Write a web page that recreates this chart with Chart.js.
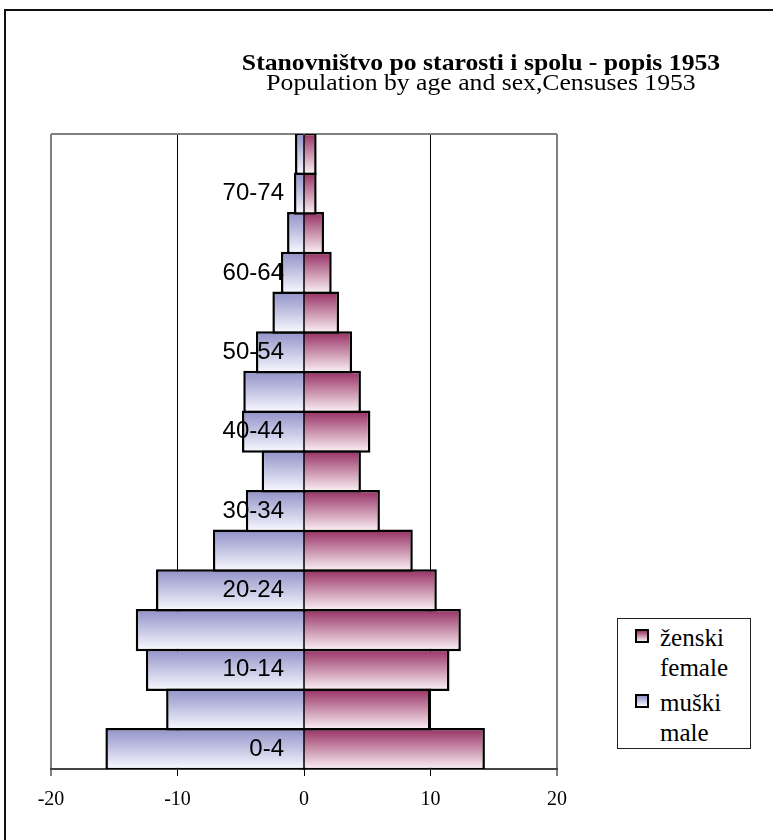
<!DOCTYPE html>
<html>
<head>
<meta charset="utf-8">
<script src="https://cdn.jsdelivr.net/npm/chart.js@4.4.1/dist/chart.umd.min.js"></script>
<style>
    body { margin: 0; background: #fff; }
    #wrap { position: relative; width: 773px; height: 840px; overflow: hidden; }
    #frame { position: absolute; left: 4px; top: 9px; width: 900px; height: 900px; border-left: 2px solid #111; border-top: 2px solid #111; }
    canvas { position: absolute; left: 0; top: 0; }
    .title { position: absolute; left: 481px; white-space: nowrap; font-family: "Liberation Serif", "Times New Roman", serif;
             font-size: 24px; line-height: 24px; color: #000; transform: translateX(-50%) scaleX(1.07); }
    #t1 { top: 50px; font-weight: bold; }
    #t2 { top: 70px; }
    #legend { position: absolute; left: 617px; top: 618px; width: 132px; height: 129px; border: 1px solid #222; background: #fff; }
    .item { position: absolute; left: 42px; font-family: "Liberation Serif", "Times New Roman", serif; font-size: 25px; line-height: 30px; color: #000; }
    .sw { position: absolute; left: -25px; top: 6px; width: 10px; height: 10px; border: 2px solid #000; }
</style>
</head>
<body>
<div id="wrap">
    <div id="frame"></div>
    <canvas id="pyramid" width="773" height="840"></canvas>
    <div class="title" id="t1">Stanovništvo po starosti i spolu - popis 1953</div>
    <div class="title" id="t2">Population by age and sex,Censuses 1953</div>
    <div id="legend">
        <div class="item" style="top:4px"><span class="sw" style="background:linear-gradient(#993366,#faf0f4)"></span>ženski<br>female</div>
        <div class="item" style="top:69px"><span class="sw" style="background:linear-gradient(#9393c9,#f8f8ff)"></span>muški<br>male</div>
    </div>
</div>
<script>
// ============================================
// データ
// ============================================

const ageGroups = ['0-4', '5-9', '10-14', '15-19', '20-24', '25-29', '30-34', '35-39',
                   '40-44', '45-49', '50-54', '55-59', '60-64', '65-69', '70-74', '75-79'];

// muški / male (negative = left side)
const maleValues = [-15.7, -10.9, -12.5, -13.3, -11.7, -7.2, -4.6, -3.35,
                    -4.9, -4.8, -3.8, -2.5, -1.82, -1.34, -0.79, -0.71];

// ženski / female
const femaleValues = [14.3, 10.0, 11.5, 12.4, 10.5, 8.6, 6.0, 4.5,
                      5.25, 4.5, 3.8, 2.77, 2.19, 1.58, 1.0, 1.0];

const xTicks = [-20, -10, 0, 10, 20];

// ============================================
// バーごとのグラデーション
// ============================================

function barGradient(topColor, bottomColor) {
    return function(context) {
        const chart = context.chart;
        const yScale = chart.scales.y;
        if (!chart.chartArea || !yScale || context.dataIndex === undefined) return topColor;
        const center = yScale.getPixelForValue(context.dataIndex);
        const half = Math.abs(yScale.getPixelForValue(1) - yScale.getPixelForValue(0)) / 2;
        const g = chart.ctx.createLinearGradient(0, center - half, 0, center + half);
        g.addColorStop(0, topColor);
        g.addColorStop(1, bottomColor);
        return g;
    };
}

const topFrame = {
    id: 'topFrame',
    beforeDatasetsDraw(chart) {
        const {ctx, chartArea: a} = chart;
        ctx.save();
        ctx.strokeStyle = '#808080';
        ctx.lineWidth = 2;
        ctx.beginPath();
        ctx.moveTo(a.left, a.top);
        ctx.lineTo(a.right, a.top);
        ctx.stroke();
        ctx.restore();
    }
};

// age labels on top of the bars, left of the zero line (every second group)
const ageLabels = {
    id: 'ageLabels',
    afterDatasetsDraw(chart) {
        const {ctx, scales: {x, y}} = chart;
        ctx.save();
        ctx.fillStyle = '#000';
        ctx.font = '24px "Liberation Sans", Arial, sans-serif';
        ctx.textAlign = 'right';
        ctx.textBaseline = 'middle';
        ageGroups.forEach((label, i) => {
            if (i % 2 !== 0) return;
            ctx.fillText(label, x.getPixelForValue(0) - 20, y.getPixelForValue(i));
        });
        ctx.restore();
    }
};

new Chart(document.getElementById('pyramid').getContext('2d'), {
    type: 'bar',
    data: {
        labels: ageGroups,
        datasets: [
            {
                label: 'ženski female',
                data: femaleValues,
                backgroundColor: barGradient('#993366', '#faf0f4'),
                borderColor: '#000',
                borderWidth: 2.5,
                borderSkipped: 'start'
            },
            {
                label: 'muški male',
                data: maleValues,
                backgroundColor: barGradient('#9393c9', '#f8f8ff'),
                borderColor: '#000',
                borderWidth: 2.5,
                borderSkipped: 'start'
            }
        ]
    },
    options: {
        indexAxis: 'y',
        responsive: false,
        animation: false,
        categoryPercentage: 1.065,
        barPercentage: 1,
        layout: { padding: { left: 51, right: 216, top: 134, bottom: 16 } },
        plugins: {
            legend: { display: false },
            tooltip: { enabled: false }
        },
        scales: {
            x: {
                stacked: true,
                min: -20,
                max: 20,
                afterBuildTicks: (axis) => { axis.ticks = xTicks.map(v => ({ value: v })); },
                ticks: {
                    color: '#000',
                    padding: 12,
                    font: { family: '"Liberation Serif", "Times New Roman", serif', size: 20 },
                    callback: (value) => value
                },
                grid: {
                    tickLength: 7,
                    color: (ctx) => Math.abs(ctx.tick.value) === 20 ? '#808080' : '#000',
                    lineWidth: (ctx) => Math.abs(ctx.tick.value) === 20 ? 2 : 1
                },
                border: { color: '#444', width: 2 }
            },
            y: {
                stacked: true,
                reverse: true,
                position: { x: 0 },
                ticks: { display: false },
                grid: { display: false, drawTicks: false },
                border: { color: '#000', width: 2.5 }
            }
        }
    },
    plugins: [topFrame, ageLabels]
});
</script>
</body>
</html>
